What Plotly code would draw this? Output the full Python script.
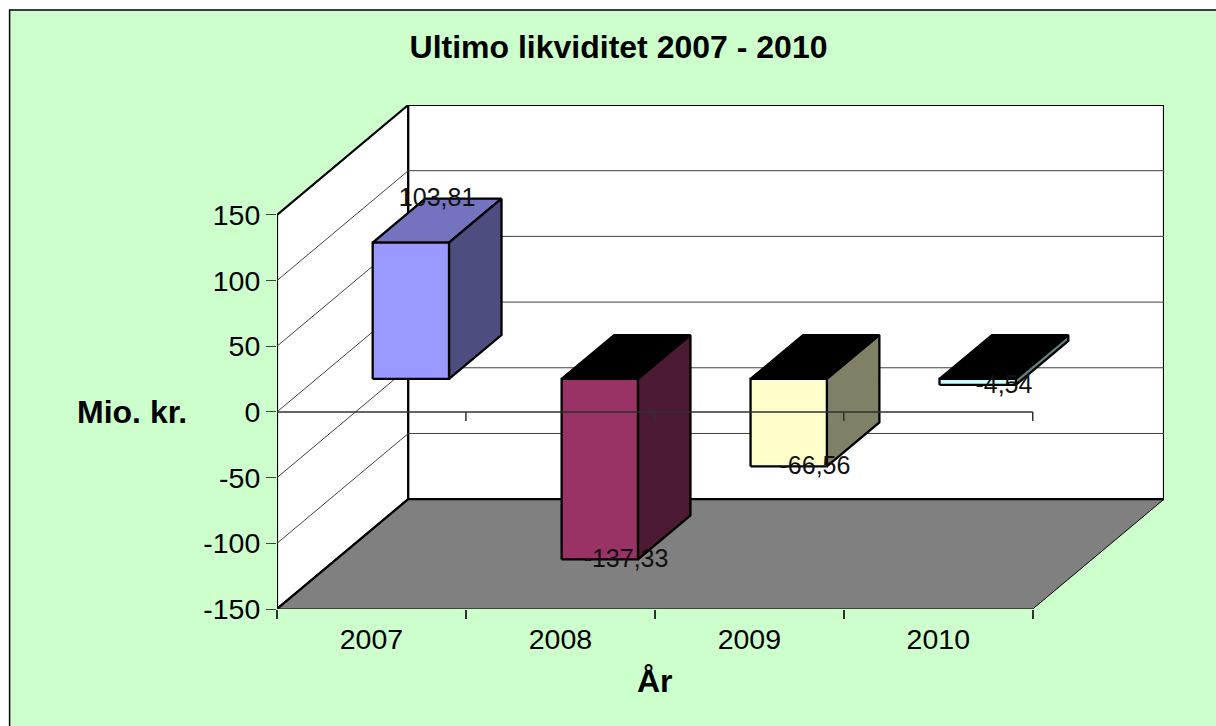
import plotly.graph_objects as go

years = ["2007", "2008", "2009", "2010"]
values = [103.81, -137.33, -66.56, -4.54]
labels = ["103,81", "-137,33", "-66,56", "-4,54"]
front_colors = ["#9999FF", "#993366", "#FFFFCC", "#CCFFFF"]
side_colors = ["#4D4D80", "#4D1A33", "#808066", "#668080"]
top_colors = ["#7373BF", "#000000", "#000000", "#000000"]
y_ticks = [-150, -100, -50, 0, 50, 100, 150]

W, H = 1216, 726
L, R, T, B = 277, 1164.3, 105.3, 608.7
PX_PER_CAT = (1033 - 277) / 4
PX_PER_VAL = (608.7 - 215) / 300
DEPTH_X = (1164.3 - 1033) / PX_PER_CAT
DEPTH_Y = (608.7 - 499) / PX_PER_VAL
N = len(years)
YMIN, YMAX = y_ticks[0], y_ticks[-1]


def pr(cat, val, d=0.0):
    """oblique projection: category, value, depth fraction -> axis coordinates"""
    return cat + d * DEPTH_X, val + d * DEPTH_Y


def poly(points, fill=None, width=2, color="#000000"):
    xs, ys = zip(*points)
    return go.Scatter(
        x=list(xs), y=list(ys), mode="lines",
        line=dict(color=color, width=width),
        fill="toself" if fill else None, fillcolor=fill,
        hoverinfo="skip", showlegend=False, cliponaxis=False,
    )


fig = go.Figure()

# walls and floor
fig.add_trace(poly([pr(0, YMIN), pr(0, YMAX), pr(0, YMAX, 1), pr(0, YMIN, 1), pr(0, YMIN)], "#FFFFFF", width=2.2))
fig.add_trace(poly([pr(0, YMIN, 1), pr(0, YMAX, 1), pr(N, YMAX, 1), pr(N, YMIN, 1), pr(0, YMIN, 1)], "#FFFFFF", width=2.2))
fig.add_trace(poly([pr(0, YMIN), pr(0, YMIN, 1), pr(N, YMIN, 1), pr(N, YMIN), pr(0, YMIN)], "#808080", width=1))
fig.add_trace(poly([pr(0, YMIN), pr(0, YMIN, 1), pr(N, YMIN, 1)], width=2.2))

# gridlines on side and back wall
for v in y_ticks[1:-1]:
    fig.add_trace(poly([pr(0, v), pr(0, v, 1), pr(N, v, 1)], width=1, color="#404040"))

# bars
D0, D1 = 0.30, 0.70
BAR = 0.404
for i, v in enumerate(values):
    c0 = i + 0.5 - BAR / 2
    c1 = i + 0.5 + BAR / 2
    hi = max(v, 0)
    lo = min(v, 0)
    fig.add_trace(poly([pr(c0, hi, D0), pr(c0, hi, D1), pr(c1, hi, D1), pr(c1, hi, D0), pr(c0, hi, D0)], top_colors[i], width=2.3))
    fig.add_trace(poly([pr(c1, lo, D0), pr(c1, lo, D1), pr(c1, hi, D1), pr(c1, hi, D0), pr(c1, lo, D0)], side_colors[i], width=2.3))
    fig.add_trace(poly([pr(c0, lo, D0), pr(c0, hi, D0), pr(c1, hi, D0), pr(c1, lo, D0), pr(c0, lo, D0)], front_colors[i], width=2.3))

# zero line with its tick marks
fig.add_trace(poly([(0, 0), (N, 0)], width=1.5, color="#303030"))
for c in range(1, N + 1):
    fig.add_trace(poly([(c, 0), (c, -9 / PX_PER_VAL)], width=1.5, color="#303030"))

# data labels
lx, ly = [], []
for i, v in enumerate(values):
    x, _ = pr(i + 0.5, v, 0.5)
    _, y = pr(i + 0.5, v, D1 if v > 0 else D0)
    lx.append(x)
    ly.append(y - 1.5 / PX_PER_VAL)
fig.add_trace(go.Scatter(
    x=lx, y=ly, mode="text", text=labels, textposition="middle center",
    textfont=dict(family="Liberation Sans", size=25, color="#111111"),
    hoverinfo="skip", showlegend=False, cliponaxis=False,
))

fig.update_layout(
    width=W, height=H,
    margin=dict(l=L, r=W - R, t=T, b=H - B, pad=0),
    paper_bgcolor="#FFFFFF", plot_bgcolor="rgba(0,0,0,0)",
    font=dict(family="Liberation Sans", color="#000000"),
    title=dict(
        text="<b>Ultimo likviditet 2007 - 2010</b>",
        x=618.5 / W, xanchor="center", y=1 - 47 / H, yanchor="middle",
        font=dict(size=32),
    ),
    xaxis=dict(
        range=[0, N + DEPTH_X], tickmode="array",
        tickvals=[i + 0.5 for i in range(N)], ticktext=years,
        ticks="", showgrid=False, zeroline=False, showline=False,
        tickfont=dict(size=28.5), ticklabelstandoff=10,
        minor=dict(tick0=0, dtick=1, ticks="outside", ticklen=9, tickcolor="#303030", tickwidth=1.5, showgrid=False),
    ),
    yaxis=dict(
        range=[YMIN, YMAX + DEPTH_Y], tickmode="array", tickvals=y_ticks,
        ticktext=[str(t) for t in y_ticks],
        ticks="outside", ticklen=10, tickcolor="#404040", tickwidth=1,
        showgrid=False, zeroline=False, showline=False, tickfont=dict(size=28.5),
    ),
    annotations=[
        dict(text="<b>Mio. kr.</b>", xref="paper", yref="y", x=(132 - L) / (R - L), y=0,
             xanchor="center", yanchor="middle", showarrow=False, font=dict(size=32)),
        dict(text="<b>År</b>", xref="x", yref="paper", x=2, y=-(681 - B) / (B - T),
             xanchor="center", yanchor="middle", showarrow=False, font=dict(size=32)),
    ],
    shapes=[dict(
        type="rect", xref="paper", yref="paper", layer="below",
        x0=(9.5 - L) / (R - L), x1=(W + 20 - L) / (R - L),
        y0=-(H + 20 - B) / (B - T), y1=1 + (T - 10.5) / (B - T),
        fillcolor="#CCFFCC", line=dict(color="#000000", width=1.5),
    )],
)

fig.write_html("out.html", config={"displayModeBar": False}, post_script="document.body.style.margin='0';")
